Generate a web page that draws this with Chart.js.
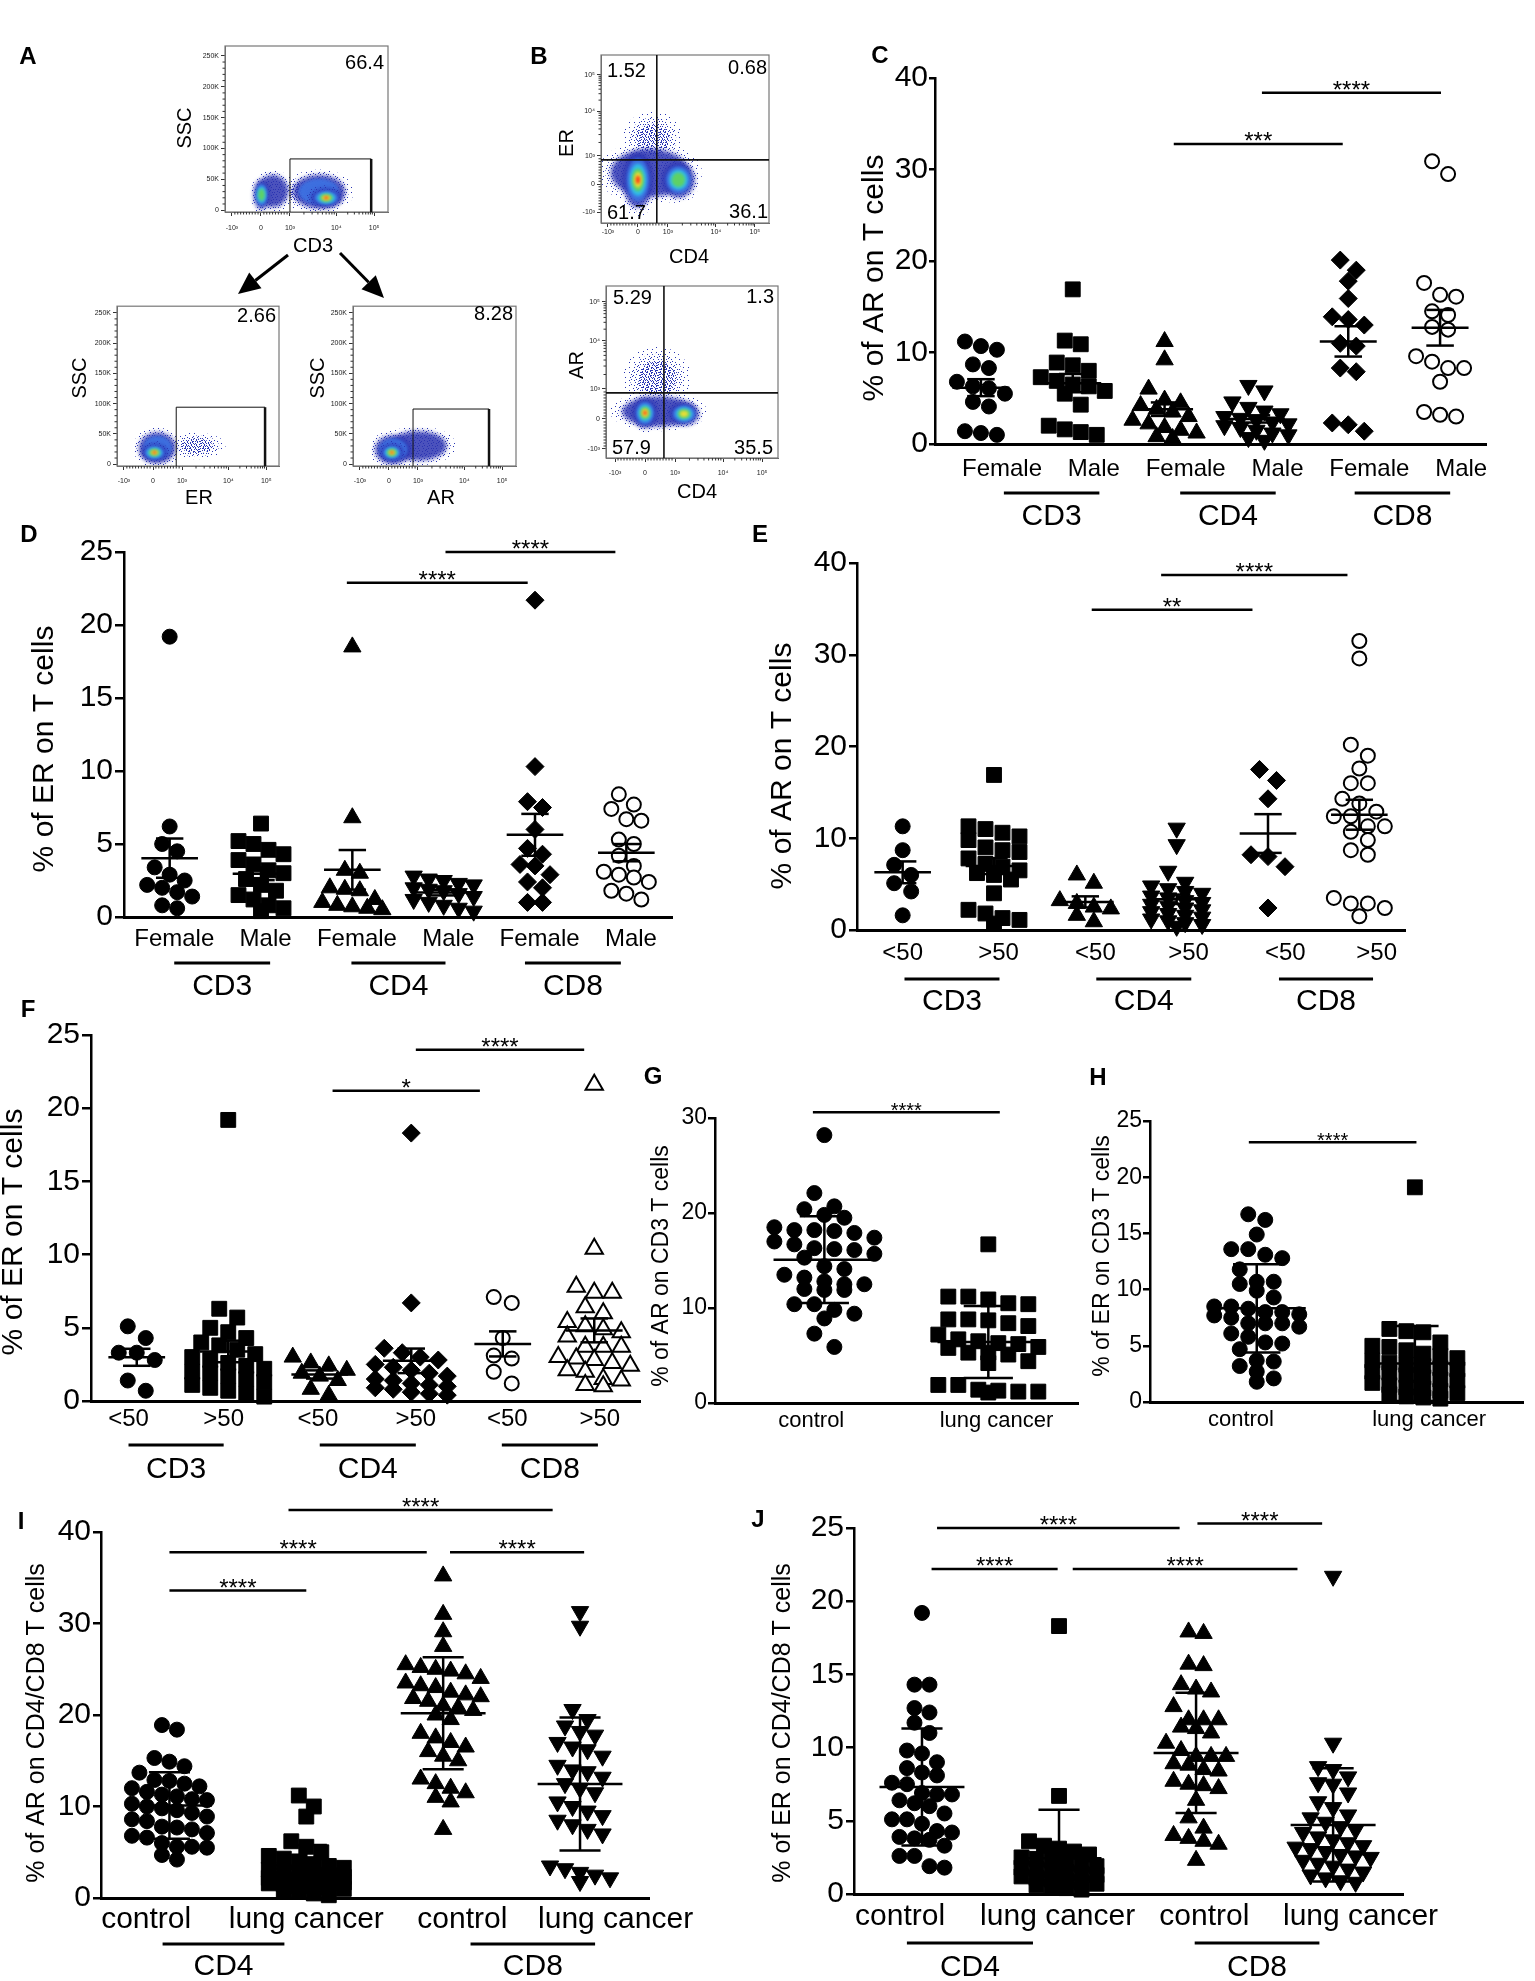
<!DOCTYPE html>
<html>
<head>
<meta charset="utf-8">
<title>AR / ER expression on T cells</title>
<script src="https://cdn.jsdelivr.net/npm/chart.js@4.4.1/dist/chart.umd.min.js"></script>
<style>
  html, body { margin: 0; padding: 0; background: #fff; }
  #page { position: relative; width: 1535px; height: 1981px; overflow: hidden; background: #fff; }
  #page canvas { position: absolute; }
</style>
</head>
<body>
<div id="page"></div>
<script>
const FONT = "'Liberation Sans', Arial, Helvetica, sans-serif";

// ---------- A / B : flow cytometry ----------
const flowTicks = [-1, 0, 1, 2.6, 3.9];
const flowTickText = ['-10³', '0', '10³', '10⁴', '10⁵'];
const sscTicks = [0, 50, 100, 150, 200, 250];
const gatePct = ['66.4', '2.66', '8.28'];
const erQuadPct = ['1.52', '0.68', '61.7', '36.1'];
const arQuadPct = ['5.29', '1.3', '57.9', '35.5'];
// populations: [x, y, spread x, spread y, peak density level (0 = sparse events)]
const popsCD3 = [[0.4, 31, 0.6, 29, 1], [1.3, 30, 0.6, 28, 0], [0.02, 25, 0.3, 26, 4], [2.0, 30, 1.0, 30, 2], [2.25, 20, 0.6, 17, 6]];
const popsER = [[1.5, 30, 1.0, 22, 0], [0.15, 27, 0.7, 28, 2], [0.05, 19, 0.5, 16, 6]];
const popsAR = [[1.0, 30, 1.1, 27, 1], [0.15, 24, 0.7, 26, 2], [0.1, 19, 0.45, 16, 6]];
const popsCD4ER = [[0.5, 1.6, 1.0, 1.0, 0], [0.4, 0.4, 1.45, 0.95, 1], [0.0, 0.15, 0.55, 1.1, 6], [1.35, 0.15, 0.6, 0.7, 4]];
const popsCD4AR = [[0.4, 1.35, 1.15, 1.05, 0], [0.45, 0.25, 1.35, 0.55, 1], [0.0, 0.2, 0.45, 0.55, 6], [1.3, 0.17, 0.55, 0.42, 5]];

// ---------- C - J : dot plots ----------
const sexLabels = ['Female', 'Male', 'Female', 'Male', 'Female', 'Male'];
const ageLabels = ['<50', '>50', '<50', '>50', '<50', '>50'];
const cohortLabels = ['control', 'lung cancer'];
const cohortLabels4 = ['control', 'lung cancer', 'control', 'lung cancer'];
const cellGroups3 = ['CD3', 'CD4', 'CD8'];
const cellGroups2 = ['CD4', 'CD8'];

// C: % AR on T cells by sex
const arSexCD3F = [11.2, 10.7, 10.3, 8.7, 8.3, 6.8, 6.3, 6.1, 5.5, 4.6, 4.1, 1.4, 1.2, 1.0];
const arSexCD3M = [16.9, 11.3, 10.9, 8.9, 8.6, 8.0, 7.3, 6.9, 6.5, 6.3, 5.8, 5.5, 4.3, 2.0, 1.6, 1.3, 1.0];
const arSexCD4F = [11.2, 9.2, 6.0, 4.8, 4.5, 4.2, 3.8, 3.5, 3.0, 2.6, 2.2, 1.8, 1.5, 1.2, 0.8, 0.6];
const arSexCD4M = [6.4, 5.8, 4.6, 4.0, 3.6, 3.3, 3.0, 2.8, 2.6, 2.4, 2.2, 2.0, 1.8, 1.5, 1.2, 1.0, 0.7, 0.4];
const arSexCD8F = [20.1, 19.0, 17.8, 15.9, 13.9, 13.6, 13.0, 11.0, 10.7, 8.3, 7.9, 2.3, 2.1, 1.4];
const arSexCD8M = [30.9, 29.5, 17.6, 16.3, 16.1, 14.5, 14.1, 12.8, 12.5, 9.6, 9.0, 8.3, 8.3, 6.8, 3.5, 3.2, 3.0];
const sigC = ['***', '****'];

// D: % ER on T cells by sex
const erSexCD3F = [19.2, 6.2, 5.0, 4.5, 3.4, 2.9, 2.5, 2.2, 2.0, 1.7, 1.4, 0.8, 0.6];
const erSexCD3M = [6.4, 5.2, 5.0, 4.6, 4.3, 3.9, 3.6, 3.2, 3.0, 2.6, 2.2, 1.8, 1.5, 1.2, 0.8, 0.6, 0.4];
const erSexCD4F = [18.5, 6.8, 3.2, 3.0, 2.0, 1.9, 1.8, 1.2, 1.0, 0.8, 0.7, 0.6, 0.5];
const erSexCD4M = [2.8, 2.6, 2.5, 2.3, 2.2, 2.0, 1.9, 1.8, 1.6, 1.4, 1.2, 1.0, 0.8, 0.6, 0.4];
const erSexCD8F = [21.7, 10.3, 7.9, 7.5, 6.0, 4.7, 4.3, 3.6, 3.5, 2.9, 2.4, 2.0, 1.0, 1.0];
const erSexCD8M = [8.4, 7.7, 7.4, 6.7, 6.6, 5.3, 5.0, 4.2, 3.5, 3.1, 2.9, 2.7, 2.4, 1.8, 1.6, 1.2];
const sigD = ['****', '****'];

// E: % AR on T cells by age
const arAgeCD3Lo = [11.3, 8.7, 7.1, 6.0, 5.1, 4.2, 1.6];
const arAgeCD3Hi = [16.9, 11.3, 11.0, 10.6, 10.2, 9.8, 9.0, 8.7, 8.5, 7.8, 7.2, 6.9, 6.5, 6.2, 6.0, 5.5, 4.0, 2.2, 1.8, 1.3, 1.1, 0.7];
const arAgeCD4Lo = [6.0, 5.1, 3.2, 2.9, 2.5, 2.3, 1.6, 0.9];
const arAgeCD4Hi = [11.1, 9.3, 6.4, 5.2, 4.8, 4.5, 4.2, 4.0, 3.7, 3.5, 3.2, 3.0, 2.8, 2.6, 2.4, 2.2, 2.0, 1.8, 1.6, 1.4, 1.2, 1.0, 0.8, 0.6, 0.4];
const arAgeCD8Lo = [17.5, 16.3, 14.3, 8.2, 8.0, 6.9, 2.4];
const arAgeCD8Hi = [31.5, 29.6, 20.2, 19.0, 17.6, 16.0, 16.0, 14.3, 13.8, 12.9, 12.4, 12.4, 11.3, 11.3, 10.7, 9.8, 8.7, 8.2, 3.5, 2.9, 2.9, 2.4, 1.5];
const sigE = ['**', '****'];

// F: % ER on T cells by age
const erAgeCD3Lo = [5.1, 4.3, 3.3, 3.3, 2.8, 1.4, 0.7];
const erAgeCD3Hi = [19.2, 6.3, 5.7, 5.0, 4.7, 4.3, 4.0, 3.8, 3.5, 3.2, 3.0, 2.8, 2.6, 2.4, 2.2, 2.0, 1.9, 1.7, 1.5, 1.3, 1.1, 0.9, 0.7, 0.5, 0.3];
const erAgeCD4Lo = [3.0, 2.6, 2.4, 2.1, 1.9, 1.7, 1.4, 0.8, 0.4];
const erAgeCD4Hi = [18.3, 6.7, 3.6, 3.3, 3.0, 2.8, 2.5, 2.3, 2.1, 1.9, 1.7, 1.5, 1.4, 1.2, 1.1, 1.0, 0.9, 0.8, 0.6, 0.5, 0.4];
const erAgeCD8Lo = [7.1, 6.7, 4.3, 3.1, 2.9, 2.0, 1.2];
const erAgeCD8Hi = [21.6, 10.4, 7.8, 7.4, 7.4, 6.4, 6.0, 5.4, 5.1, 4.9, 4.7, 4.4, 3.7, 3.7, 3.7, 3.0, 2.9, 2.8, 2.6, 2.4, 2.1, 2.0, 1.5, 1.4, 1.1, 1.0];
const sigF = ['*', '****'];

// G / H: CD3 T cells, control vs lung cancer
const arCD3Ctrl = [28.2, 22.1, 20.7, 20.4, 19.8, 19.5, 18.5, 18.2, 18.2, 18.1, 17.9, 17.4, 17.0, 16.7, 16.3, 16.2, 16.1, 15.7, 15.3, 14.4, 14.1, 13.5, 13.2, 12.8, 12.5, 12.5, 12.0, 11.9, 11.9, 10.4, 10.4, 9.8, 9.4, 8.9, 7.3, 5.9];
const arCD3Lung = [16.7, 11.2, 11.2, 10.9, 10.5, 10.4, 8.8, 8.8, 8.7, 8.4, 8.1, 7.2, 6.7, 6.5, 6.3, 6.2, 5.9, 5.8, 5.3, 5.3, 5.1, 4.4, 4.2, 1.9, 1.9, 1.4, 1.3, 1.2, 1.2, 1.1];
const erCD3Ctrl = [16.7, 16.2, 14.9, 13.6, 13.6, 13.1, 12.8, 11.8, 10.7, 10.7, 10.5, 9.9, 9.3, 8.5, 8.5, 8.3, 8.0, 8.0, 7.8, 7.7, 7.5, 7.0, 7.0, 7.0, 6.7, 6.1, 5.8, 5.3, 5.2, 4.7, 3.7, 3.6, 3.2, 2.7, 2.1, 1.8];
const erCD3Lung = [19.1, 6.5, 6.3, 6.2, 5.3, 5.0, 4.9, 4.6, 4.3, 4.1, 3.9, 3.7, 3.5, 3.3, 3.2, 3.0, 2.9, 2.7, 2.6, 2.4, 2.2, 2.0, 1.9, 1.7, 1.5, 1.3, 1.2, 1.0, 0.8, 0.7, 0.5, 0.4, 0.3];
const sigG = ['****'];
const sigH = ['****'];

// I / J: CD4 and CD8 T cells, control vs lung cancer
const arCD4Ctrl = [18.9, 18.4, 15.3, 14.9, 14.4, 13.7, 12.9, 12.8, 12.5, 12.2, 12.0, 11.6, 11.3, 11.1, 10.8, 10.7, 10.3, 10.0, 9.8, 9.6, 9.3, 8.9, 8.6, 8.4, 7.8, 7.7, 7.5, 7.1, 6.8, 6.6, 6.0, 5.6, 5.6, 5.5, 4.7, 4.2];
const arCD4Lung = [11.2, 10.0, 8.9, 6.2, 5.6, 5.0, 4.6, 4.3, 4.0, 3.7, 3.5, 3.3, 3.1, 2.9, 2.8, 2.6, 2.5, 2.3, 2.2, 2.1, 2.0, 1.9, 1.8, 1.7, 1.6, 1.5, 1.4, 1.3, 1.2, 1.0, 0.9, 0.7, 0.5, 0.3];
const arCD8Ctrl = [35.2, 31.0, 29.1, 27.5, 25.5, 25.2, 25.0, 24.8, 24.5, 24.0, 23.5, 23.2, 23.0, 22.5, 22.2, 22.0, 21.8, 21.5, 21.0, 20.8, 20.5, 20.0, 19.5, 18.0, 17.5, 17.0, 16.5, 16.0, 15.5, 15.0, 13.0, 12.5, 12.0, 11.5, 11.0, 10.5, 7.5];
const arCD8Lung = [31.3, 29.7, 20.6, 19.5, 18.8, 18.2, 17.8, 17.0, 16.5, 16.2, 15.5, 14.5, 14.0, 13.8, 13.2, 12.5, 12.0, 11.5, 10.5, 10.0, 9.5, 9.0, 8.5, 8.0, 7.5, 7.0, 3.5, 3.2, 2.8, 2.5, 2.2, 1.8];
const erCD4Ctrl = [19.2, 14.3, 14.3, 12.7, 12.4, 11.7, 11.0, 9.8, 9.6, 9.0, 8.6, 8.3, 8.1, 7.6, 7.5, 6.9, 6.8, 6.8, 6.4, 6.2, 6.0, 5.5, 5.1, 5.1, 4.8, 4.3, 4.2, 3.9, 3.8, 3.7, 3.3, 2.6, 2.6, 1.9, 1.8];
const erCD4Lung = [18.3, 6.7, 3.6, 3.3, 3.1, 2.9, 2.7, 2.5, 2.4, 2.3, 2.1, 2.0, 1.9, 1.8, 1.7, 1.6, 1.5, 1.4, 1.3, 1.2, 1.1, 1.0, 0.9, 0.8, 0.7, 0.6, 0.5, 0.4, 0.3];
const erCD8Ctrl = [17.9, 17.8, 15.7, 15.6, 14.3, 14.0, 13.8, 12.8, 11.9, 11.9, 11.9, 11.4, 11.3, 11.0, 10.3, 9.8, 9.4, 9.4, 9.4, 8.9, 8.8, 8.5, 8.4, 7.7, 7.5, 7.4, 7.2, 6.4, 5.2, 4.5, 4.0, 3.8, 3.6, 3.4, 2.3];
const erCD8Lung = [21.7, 10.3, 8.7, 8.5, 8.0, 7.6, 7.5, 6.9, 6.3, 5.9, 5.4, 5.2, 4.9, 4.6, 4.4, 4.2, 3.9, 3.7, 3.5, 3.3, 3.2, 3.1, 2.9, 2.7, 2.6, 2.5, 2.3, 2.1, 1.9, 1.7, 1.5, 1.3, 1.1, 0.9, 0.8];
const sigI = ['****', '****', '****', '****'];
const sigJ = ['****', '****', '****', '****'];

Chart.defaults.font.family = FONT;
Chart.defaults.color = '#000';

const page = document.getElementById('page');

function makeCanvas(box) {
  const c = document.createElement('canvas');
  c.width = box[2]; c.height = box[3];
  c.style.left = box[0] + 'px'; c.style.top = box[1] + 'px';
  c.style.width = box[2] + 'px'; c.style.height = box[3] + 'px';
  page.appendChild(c);
  return c;
}

function put(ctx, s, x, y, size, align, bold, rot) {
  ctx.save();
  ctx.font = (bold ? 'bold ' : '') + size + 'px ' + FONT;
  ctx.textAlign = align || 'center';
  ctx.textBaseline = 'middle';
  ctx.translate(x, y);
  if (rot) ctx.rotate(rot);
  ctx.fillText(s, 0, 0);
  ctx.restore();
}

function line(ctx, x1, y1, x2, y2, w) {
  ctx.lineWidth = w;
  ctx.beginPath(); ctx.moveTo(x1, y1); ctx.lineTo(x2, y2); ctx.stroke();
}

function arrow(ctx, x1, y1, x2, y2) {
  const a = Math.atan2(y2 - y1, x2 - x1), hl = 22, hw = 10;
  const bx = x2 - hl * Math.cos(a), by = y2 - hl * Math.sin(a);
  line(ctx, x1, y1, bx, by, 3);
  ctx.beginPath();
  ctx.moveTo(x2, y2);
  ctx.lineTo(bx + hw * Math.sin(a), by - hw * Math.cos(a));
  ctx.lineTo(bx - hw * Math.sin(a), by + hw * Math.cos(a));
  ctx.closePath(); ctx.fill();
}

// ---------------- flow cytometry panels ----------------
const layerScale = [0.9, 0.7, 0.52, 0.37, 0.25, 0.13];
const layerColor = ['#2b34b2', '#3d72e2', '#2fc2ea', '#62d35a', '#f3df33', '#ff2e16'];

// speckle texture used for the low-density edges of each population
function speckle(ctx, n) {
  const c = document.createElement('canvas');
  c.width = c.height = 18;
  const g = c.getContext('2d');
  g.fillStyle = '#2a36b4';
  for (let k = 1; k <= n; k++) {
    g.fillRect(Math.floor(((k * 0.7548776662) % 1) * 18), Math.floor(((k * 0.5698402910) % 1) * 18), 1, 1);
  }
  return ctx.createPattern(c, 'repeat');
}

function flowMinor(v0, v1) {
  const out = [];
  for (let m = 2; m < 10; m++) out.push(v0 + Math.log10(m) * (v1 - v0));
  return out;
}

function flowDecor(p) {
  const L = p.box[0], T = p.box[1];
  return {
    id: 'flowDecor',
    beforeDatasetsDraw(chart) {
      const ctx = chart.ctx, a = chart.chartArea, xs = chart.scales.x, ys = chart.scales.y;
      const sparse = speckle(ctx, 16), medium = speckle(ctx, 45), dense = speckle(ctx, 110);
      ctx.save();
      ctx.beginPath(); ctx.rect(a.left, a.top, a.right - a.left, a.bottom - a.top); ctx.clip();
      const ell = (cx, cy, rx, ry) => { ctx.beginPath(); ctx.ellipse(cx, cy, rx, ry, 0, 0, Math.PI * 2); ctx.fill(); };
      p.pops.forEach(([x, y, sx, sy, lv]) => {
        const cx = xs.getPixelForValue(x), cy = ys.getPixelForValue(y);
        const rx = Math.abs(xs.getPixelForValue(x + sx) - cx);
        const ry = Math.abs(ys.getPixelForValue(y + sy) - cy);
        ctx.filter = 'none'; ctx.globalAlpha = 1;
        if (lv === 0) {
          ctx.fillStyle = sparse; ell(cx, cy, rx, ry);
          ctx.fillStyle = medium; ell(cx, cy, rx * 0.78, ry * 0.78);
          ctx.fillStyle = dense; ell(cx, cy, rx * 0.55, ry * 0.55);
          return;
        }
        ctx.fillStyle = sparse; ell(cx, cy, rx * 1.2, ry * 1.2);
        ctx.fillStyle = medium; ell(cx, cy, rx * 1.03, ry * 1.03);
        for (let i = 0; i < lv; i++) {
          const f = layerScale[i];
          ctx.filter = 'blur(' + (i ? 1.4 : 2.2) + 'px)';
          ctx.globalAlpha = i ? 0.93 : 0.85;
          ctx.fillStyle = layerColor[i];
          ell(cx, cy, rx * f, ry * f);
        }
      });
      ctx.restore();
    },
    afterDraw(chart) {
      const ctx = chart.ctx, a = chart.chartArea, xs = chart.scales.x, ys = chart.scales.y;
      ctx.save();
      ctx.strokeStyle = '#777';
      ctx.lineWidth = 1.2;
      ctx.strokeRect(a.left, a.top, a.right - a.left, a.bottom - a.top);
      // minor ticks
      ctx.strokeStyle = '#333';
      const xm = [];
      for (let k = -9; k <= 9; k++) if (k % 10) xm.push(k / 10);
      xm.push(...flowMinor(1, 2.6), ...flowMinor(2.6, 3.9));
      xm.forEach(v => { const px = xs.getPixelForValue(v); if (px > a.left && px < a.right) line(ctx, px, a.bottom, px, a.bottom + 2.5, 1); });
      const ym = p.ssc ? Array.from({length: 26}, (_, k) => k * 10).filter(v => v % 50) : xm;
      ym.forEach(v => { const py = ys.getPixelForValue(v); if (py > a.top && py < a.bottom) line(ctx, a.left - 2.5, py, a.left, py, 1); });
      // gate or quadrants
      ctx.strokeStyle = '#111';
      if (p.gate) {
        const gx1 = xs.getPixelForValue(p.gate[0]), gx2 = xs.getPixelForValue(p.gate[1]), gy = ys.getPixelForValue(p.gate[2]);
        line(ctx, gx1, a.bottom, gx1, gy, 1);
        line(ctx, gx1, gy, gx2, gy, 1);
        line(ctx, gx2, gy, gx2, a.bottom, 2.5);
      }
      if (p.quad) {
        const qx = xs.getPixelForValue(p.quad[0]), qy = ys.getPixelForValue(p.quad[1]);
        line(ctx, qx, a.top, qx, a.bottom, 1.6);
        line(ctx, a.left, qy, a.right, qy, 1.6);
      }
      ctx.fillStyle = '#000';
      p.nums.forEach(([s, x, y, al]) => put(ctx, s, x - L, y - T, 20, al));
      put(ctx, p.xTitle[0], p.xTitle[1] - L, p.xTitle[2] - T, 20);
      put(ctx, p.yTitle[0], p.yTitle[1] - L, p.yTitle[2] - T, 20, 'center', false, -Math.PI / 2);
      if (p.extra) p.extra(ctx, L, T);
      ctx.restore();
    }
  };
}

function flowPanel(p) {
  const [L, T, W, H] = p.box, [l, t, r, b] = p.area;
  const cv = makeCanvas(p.box);
  const grid = () => ({display: true, drawOnChartArea: false, drawTicks: true, tickLength: 4, color: '#333', lineWidth: 1});
  new Chart(cv, {
    type: 'scatter',
    data: {datasets: []},
    options: {
      responsive: false, animation: false, events: [], devicePixelRatio: 1,
      layout: {padding: {top: t - T, right: L + W - r, left: 0, bottom: 0}},
      plugins: {legend: {display: false}, tooltip: {enabled: false}},
      scales: {
        x: {
          type: 'linear', min: p.x[0], max: p.x[1],
          afterBuildTicks: s => { s.ticks = p.xTicks.map(v => ({value: v})); },
          afterFit: s => { s.height = T + H - b; },
          ticks: {callback: (v, i) => p.xText[i], font: {size: 7}, color: '#222', padding: p.xPad, autoSkip: false, maxRotation: 0},
          grid: grid(),
          border: {display: true, color: '#666', width: 1}
        },
        y: {
          type: 'linear', min: p.y[0], max: p.y[1],
          afterBuildTicks: s => { s.ticks = p.yTicks.map(v => ({value: v})); },
          afterFit: s => { s.width = l - L; },
          ticks: {callback: (v, i) => p.yText[i], font: {size: 7}, color: '#222', padding: 2, autoSkip: false},
          grid: grid(),
          border: {display: true, color: '#666', width: 1}
        }
      }
    },
    plugins: [flowDecor(p)]
  });
}

const sscText = sscTicks.map(v => (v ? v + 'K' : '0'));

flowPanel({
  box: [0, 0, 530, 305], area: [225, 46, 388, 212], ssc: true,
  x: [-1.24, 4.38], xTicks: flowTicks, xText: flowTickText, xPad: 8,
  y: [-3, 266], yTicks: sscTicks, yText: sscText,
  pops: popsCD3, gate: [1.0, 3.8, 83],
  nums: [[gatePct[0], 384, 63, 'right']],
  xTitle: ['CD3', 313, 246], yTitle: ['SSC', 185, 128],
  extra: (ctx, L, T) => {
    put(ctx, 'A', 28 - L, 57 - T, 24, 'center', true);
    ctx.strokeStyle = '#000'; ctx.fillStyle = '#000';
    arrow(ctx, 288 - L, 255 - T, 238 - L, 294 - T);
    arrow(ctx, 340 - L, 253 - T, 384 - L, 298 - T);
  }
});
flowPanel({
  box: [0, 300, 300, 220], area: [117, 303, 279, 466], ssc: true,
  x: [-1.24, 4.34], xTicks: flowTicks, xText: flowTickText, xPad: 7,
  y: [-3.2, 261], yTicks: sscTicks, yText: sscText,
  pops: popsER, gate: [0.8, 3.86, 94],
  nums: [[gatePct[1], 276, 316, 'right']],
  xTitle: ['ER', 199, 498], yTitle: ['SSC', 80, 378]
});
flowPanel({
  box: [300, 300, 235, 220], area: [353, 303, 516, 466], ssc: true,
  x: [-1.24, 4.38], xTicks: flowTicks, xText: flowTickText, xPad: 7,
  y: [-3.2, 261], yTicks: sscTicks, yText: sscText,
  pops: popsAR, gate: [0.83, 3.45, 91],
  nums: [[gatePct[2], 513, 314, 'right']],
  xTitle: ['AR', 441, 498], yTitle: ['SSC', 318, 378]
});
flowPanel({
  box: [530, 30, 330, 240], area: [601, 55, 769, 223],
  x: [-1.23, 4.37], xTicks: flowTicks, xText: flowTickText, xPad: 1,
  y: [-1.39, 4.6], yTicks: flowTicks, yText: flowTickText,
  pops: popsCD4ER, quad: [0.63, 0.86],
  nums: [[erQuadPct[0], 607, 71, 'left'], [erQuadPct[1], 767, 68, 'right'], [erQuadPct[2], 607, 213, 'left'], [erQuadPct[3], 768, 212, 'right']],
  xTitle: ['CD4', 689, 257], yTitle: ['ER', 567, 143],
  extra: (ctx, L, T) => put(ctx, 'B', 539 - L, 57 - T, 24, 'center', true)
});
flowPanel({
  box: [530, 270, 330, 240], area: [606, 286, 778, 458],
  x: [-1.3, 4.43], xTicks: flowTicks, xText: flowTickText, xPad: 7,
  y: [-1.3, 4.43], yTicks: flowTicks, yText: flowTickText,
  pops: popsCD4AR, quad: [0.63, 0.87],
  nums: [[arQuadPct[0], 613, 298, 'left'], [arQuadPct[1], 774, 297, 'right'], [arQuadPct[2], 612, 448, 'left'], [arQuadPct[3], 773, 448, 'right']],
  xTitle: ['CD4', 697, 492], yTitle: ['AR', 577, 365]
});

// ---------------- dot plot panels ----------------
const MK = {
  dot:  {style: 'circle', r: 7.5},
  sq:   {style: 'rect', r: 10.5},
  up:   {style: 'triangle', r: 10},
  down: {style: 'triangle', r: 10, rot: 180},
  dia:  {style: 'rectRot', r: 9},
  ring: {style: 'circle', r: 7, open: true},
  tri:  {style: 'triangle', r: 10, open: true}
};

function stats(v, kind) {
  const n = v.length, m = v.reduce((a, c) => a + c, 0) / n;
  const sd = Math.sqrt(v.reduce((a, c) => a + (c - m) * (c - m), 0) / (n - 1));
  return [m, kind === 'sd' ? sd : sd / Math.sqrt(n)];
}

function dotDecor(p) {
  const L = p.box[0], T = p.box[1];
  return {
    id: 'dotDecor',
    afterDatasetsDraw(chart) {
      const ctx = chart.ctx, xs = chart.scales.x, ys = chart.scales.y;
      const unit = xs.getPixelForValue(1) - xs.getPixelForValue(0);
      const axisY = chart.chartArea.bottom;
      ctx.save();
      ctx.strokeStyle = '#000'; ctx.fillStyle = '#000';
      // mean with SEM / SD (whiskers stop at the x axis)
      p.series.forEach((v, i) => {
        const [m, e] = stats(v, p.err);
        const cx = xs.getPixelForValue(i), ym = ys.getPixelForValue(m);
        const yt = ys.getPixelForValue(m + e), yb = ys.getPixelForValue(Math.max(0, m - e));
        line(ctx, cx - 0.31 * unit, ym, cx + 0.31 * unit, ym, 2.5);
        line(ctx, cx, yt, cx, yb, 2.5);
        line(ctx, cx - 0.15 * unit, yt, cx + 0.15 * unit, yt, 2.5);
        if (m - e > 0) line(ctx, cx - 0.15 * unit, yb, cx + 0.15 * unit, yb, 2.5);
      });
      // significance bars
      p.sig.forEach((s, k) => {
        const x1 = xs.getPixelForValue(s[0]), x2 = xs.getPixelForValue(s[1]), y = ys.getPixelForValue(s[2]);
        line(ctx, x1, y, x2, y, 2.5);
        ctx.font = p.starSize + 'px ' + FONT;
        ctx.textAlign = 'center'; ctx.textBaseline = 'alphabetic';
        ctx.fillText(p.sigText[k], (x1 + x2) / 2, y + 5);
      });
      // cell-type groups under the axis
      p.groups.forEach((g, k) => {
        const x1 = xs.getPixelForValue(g[0]), x2 = xs.getPixelForValue(g[1]);
        line(ctx, x1, axisY + p.ulDy, x2, axisY + p.ulDy, 3);
        put(ctx, p.groupText[k], (x1 + x2) / 2, axisY + p.glDy, 30);
      });
      put(ctx, p.letter[0], p.letter[1] - L, p.letter[2] - T, 24, 'center', true);
      put(ctx, p.yTitle[0], p.yTitle[1] - L, p.yTitle[2] - T, p.yTitle[3], 'center', false, -Math.PI / 2);
      ctx.restore();
    }
  };
}

// spread the dots of each column sideways, row by row (rows are capped in width)
function swarm(chart, p) {
  const xs = chart.scales.x, ys = chart.scales.y;
  const unit = xs.getPixelForValue(1) - xs.getPixelForValue(0);
  chart.data.datasets.forEach((ds, i) => {
    const vals = p.series[i];
    const order = vals.map((_, k) => k).sort((a, c) => vals[c] - vals[a]);
    const out = new Array(vals.length);
    let row = [];
    const flush = () => {
      const n = row.length;
      row.forEach((k, j) => { out[k] = {x: i + (j - (n - 1) / 2) * p.step / unit, y: vals[k]}; });
      row = [];
    };
    order.forEach(k => {
      const far = row.length && ys.getPixelForValue(vals[k]) - ys.getPixelForValue(vals[row[0]]) >= p.gap;
      if (row.length && (far || row.length >= p.maxRow)) flush();
      row.push(k);
    });
    flush();
    ds.data = out;
  });
  chart.update('none');
}

function dotPanel(p) {
  const [L, T, W, H] = p.box, [l, t, r, b] = p.area;
  const cv = makeCanvas(p.box);
  const datasets = p.series.map((vals, i) => {
    const m = p.marks[i];
    return {
      data: vals.map(v => ({x: i, y: v})),
      pointStyle: m.style, pointRadius: m.r, pointRotation: m.rot || 0,
      pointHoverRadius: m.r,
      backgroundColor: m.open ? '#fff' : '#000',
      borderColor: '#000', borderWidth: m.open ? 2 : 1,
      clip: false
    };
  });
  const chart = new Chart(cv, {
    type: 'scatter',
    data: {datasets},
    options: {
      responsive: false, animation: false, events: [], devicePixelRatio: 1,
      layout: {padding: {top: t - T, right: L + W - r, left: 0, bottom: 0}},
      plugins: {legend: {display: false}, tooltip: {enabled: false}},
      scales: {
        x: {
          type: 'linear', min: p.xMin, max: p.xMax,
          afterBuildTicks: s => { s.ticks = p.labels.map((_, i) => ({value: i + p.labelShift[i]})); },
          afterFit: s => { s.height = T + H - b; },
          ticks: {callback: (v, i) => p.labels[i], autoSkip: false, maxRotation: 0,
                  font: {size: p.catSize, lineHeight: 1.2}, color: '#000', padding: p.catPad},
          grid: {display: false, drawTicks: false},
          border: {display: true, color: '#000', width: 3}
        },
        y: {
          type: 'linear', min: 0, max: p.yMax,
          afterBuildTicks: s => {
            const a = [];
            for (let v = 0; v <= p.yMax + 1e-9; v += p.yStep) a.push({value: v});
            s.ticks = a;
          },
          afterFit: s => { s.width = l - L; },
          ticks: {font: {size: p.tickSize}, color: '#000', padding: p.tickLen > 7 ? 2 : 1},
          grid: {display: true, drawOnChartArea: false, drawTicks: true, tickLength: p.tickLen, color: '#000', lineWidth: 2.5},
          border: {display: true, color: '#000', width: 2.5}
        }
      }
    },
    plugins: [dotDecor(p)]
  });
  swarm(chart, p);
}

const six = [0, 0, 0, 0, 0, 0];

dotPanel({ // C
  box: [860, 40, 675, 495], area: [935, 78, 1486, 444], xMin: -0.5, xMax: 5.5,
  yMax: 40, yStep: 10, tickSize: 30, tickLen: 6, catSize: 24, catPad: 11,
  labels: sexLabels, labelShift: six.map(() => 0.23),
  series: [arSexCD3F, arSexCD3M, arSexCD4F, arSexCD4M, arSexCD8F, arSexCD8M],
  marks: [MK.dot, MK.sq, MK.up, MK.down, MK.dia, MK.ring], err: 'sem', step: 16, gap: 14, maxRow: 5,
  groups: [[0.25, 1.29], [2.17, 3.21], [4.07, 5.11]], groupText: cellGroups3, ulDy: 49, glDy: 73,
  sig: [[2.1, 3.94, 32.8], [3.06, 5.01, 38.4]], sigText: sigC, starSize: 24,
  letter: ['C', 880, 56], yTitle: ['% of AR on T cells', 875, 278, 30]
});
dotPanel({ // D
  box: [0, 515, 700, 490], area: [124, 552, 672, 917], xMin: -0.5, xMax: 5.5,
  yMax: 25, yStep: 5, tickSize: 30, tickLen: 9, catSize: 24, catPad: 8,
  labels: sexLabels, labelShift: six.map(() => 0.05),
  series: [erSexCD3F, erSexCD3M, erSexCD4F, erSexCD4M, erSexCD8F, erSexCD8M],
  marks: [MK.dot, MK.sq, MK.up, MK.down, MK.dia, MK.ring], err: 'sem', step: 15, gap: 14, maxRow: 5,
  groups: [[0.05, 1.1], [1.99, 3.02], [3.89, 4.94]], groupText: cellGroups3, ulDy: 46, glDy: 70,
  sig: [[1.94, 3.92, 22.9], [3.02, 4.88, 25.0]], sigText: sigD, starSize: 24,
  letter: ['D', 29, 535], yTitle: ['% of ER on T cells', 45, 749, 30]
});
dotPanel({ // E
  box: [740, 515, 795, 497], area: [857, 563, 1405, 930], xMin: -0.5, xMax: 5.5,
  yMax: 40, yStep: 10, tickSize: 30, tickLen: 8, catSize: 24, catPad: 9,
  labels: ageLabels, labelShift: [0, 0.05, 0.11, 0.13, 0.19, 0.19],
  series: [arAgeCD3Lo, arAgeCD3Hi, arAgeCD4Lo, arAgeCD4Hi, arAgeCD8Lo, arAgeCD8Hi],
  marks: [MK.dot, MK.sq, MK.up, MK.down, MK.dia, MK.ring], err: 'sem', step: 17, gap: 14, maxRow: 4,
  groups: [[0.02, 1.06], [2.12, 3.16], [4.12, 5.15]], groupText: cellGroups3, ulDy: 49, glDy: 72,
  sig: [[2.07, 3.83, 34.9], [2.83, 4.87, 38.7]], sigText: sigE, starSize: 24,
  letter: ['E', 760, 535], yTitle: ['% of AR on T cells', 783, 766, 30]
});
dotPanel({ // F
  box: [0, 998, 660, 487], area: [91, 1035, 640, 1401], xMin: -0.5, xMax: 5.5,
  yMax: 25, yStep: 5, tickSize: 30, tickLen: 9, catSize: 24, catPad: 4,
  labels: ageLabels, labelShift: [-0.09, -0.05, -0.02, 0.05, 0.05, 0.06],
  series: [erAgeCD3Lo, erAgeCD3Hi, erAgeCD4Lo, erAgeCD4Hi, erAgeCD8Lo, erAgeCD8Hi],
  marks: [MK.dot, MK.sq, MK.up, MK.dia, MK.ring, MK.tri], err: 'sem', step: 18, gap: 14, maxRow: 5,
  groups: [[-0.09, 0.95], [2.0, 3.05], [3.99, 5.04]], groupText: cellGroups3, ulDy: 44, glDy: 69,
  sig: [[2.14, 3.75, 21.2], [3.05, 4.89, 24.0]], sigText: sigF, starSize: 24,
  letter: ['F', 28, 1010], yTitle: ['% of ER on T cells', 14, 1232, 30]
});
dotPanel({ // G
  box: [640, 1060, 450, 390], area: [715, 1118, 1087, 1403], xMin: -0.667, xMax: 1.55,
  yMax: 30, yStep: 10, tickSize: 23, tickLen: 7, catSize: 22, catPad: 5,
  labels: cohortLabels, labelShift: [-0.08, 0.05],
  series: [arCD3Ctrl, arCD3Lung],
  marks: [MK.dot, MK.sq], err: 'sd', step: 20, gap: 14, maxRow: 6,
  groups: [], groupText: [], ulDy: 0, glDy: 0,
  sig: [[-0.07, 1.07, 30.6]], sigText: sigG, starSize: 20,
  letter: ['G', 653, 1077], yTitle: ['% of AR on CD3 T cells', 662, 1266, 23]
});
dotPanel({ // H
  box: [1090, 1060, 445, 390], area: [1150, 1121, 1535, 1402], xMin: -0.675, xMax: 1.687,
  yMax: 25, yStep: 5, tickSize: 23, tickLen: 7, catSize: 22, catPad: 5,
  labels: cohortLabels, labelShift: [-0.1, 0.09],
  series: [erCD3Ctrl, erCD3Lung],
  marks: [MK.dot, MK.sq], err: 'sd', step: 17, gap: 14, maxRow: 6,
  groups: [], groupText: [], ulDy: 0, glDy: 0,
  sig: [[-0.05, 1.01, 23.1]], sigText: sigH, starSize: 20,
  letter: ['H', 1098, 1078], yTitle: ['% of ER on CD3 T cells', 1103, 1256, 23]
});
dotPanel({ // I
  box: [0, 1482, 700, 499], area: [101, 1532, 654, 1898], xMin: -0.5, xMax: 3.507,
  yMax: 40, yStep: 10, tickSize: 30, tickLen: 8, catSize: 30, catPad: 4,
  labels: cohortLabels4, labelShift: [-0.17, 0, 0.14, 0.26],
  series: [arCD4Ctrl, arCD4Lung, arCD8Ctrl, arCD8Lung],
  marks: [MK.dot, MK.sq, MK.up, MK.down], err: 'sd', step: 15, gap: 14, maxRow: 6,
  groups: [[-0.05, 0.84], [2.2, 3.11]], groupText: cellGroups2, ulDy: 46, glDy: 69,
  sig: [[0, 1.0, 33.6], [0, 1.88, 37.8], [2.05, 3.03, 37.8], [0.87, 2.8, 42.4]], sigText: sigI, starSize: 24,
  letter: ['I', 21, 1522], yTitle: ['% of AR on CD4/CD8 T cells', 37, 1723, 25]
});
dotPanel({ // J
  box: [740, 1482, 795, 499], area: [854, 1528, 1403, 1894], xMin: -0.496, xMax: 3.51,
  yMax: 25, yStep: 5, tickSize: 30, tickLen: 8, catSize: 30, catPad: 5,
  labels: cohortLabels4, labelShift: [-0.16, -0.01, 0.06, 0.2],
  series: [erCD4Ctrl, erCD4Lung, erCD8Ctrl, erCD8Lung],
  marks: [MK.dot, MK.sq, MK.up, MK.down], err: 'sd', step: 15, gap: 14, maxRow: 6,
  groups: [[-0.11, 0.81], [1.99, 2.9]], groupText: cellGroups2, ulDy: 49, glDy: 74,
  sig: [[0.07, 0.99, 22.2], [1.1, 2.74, 22.2], [0.11, 1.88, 25.0], [2.01, 2.92, 25.3]], sigText: sigJ, starSize: 24,
  letter: ['J', 758, 1520], yTitle: ['% of ER on CD4/CD8 T cells', 783, 1723, 25]
});
</script>
</body>
</html>
